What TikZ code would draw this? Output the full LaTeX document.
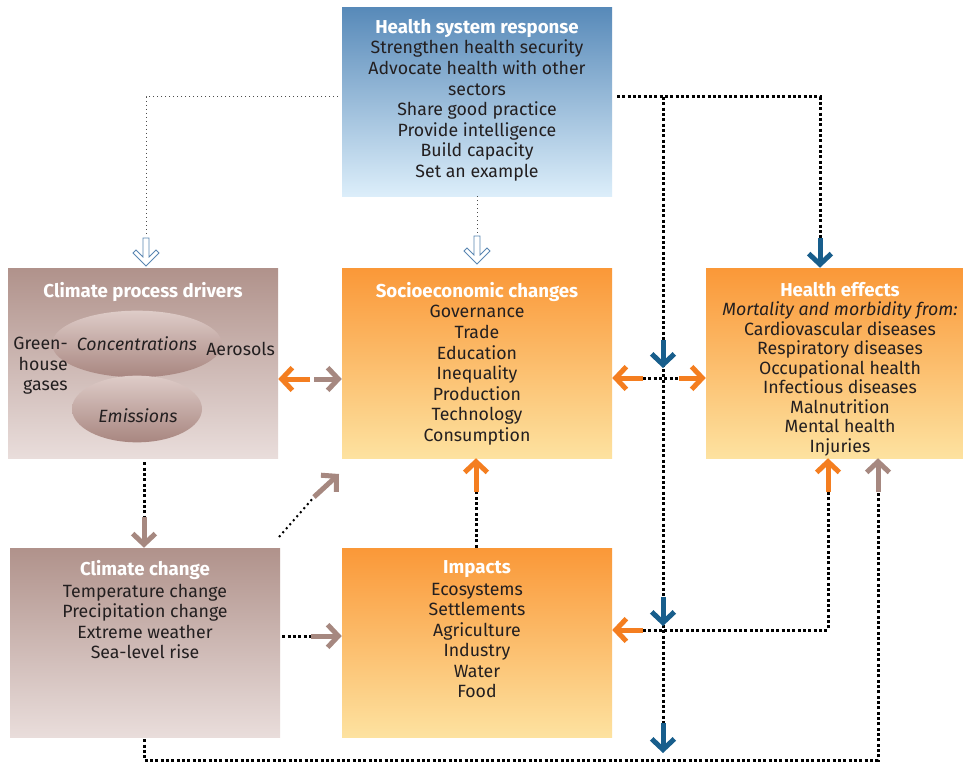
\documentclass[tikz,border=0pt]{standalone}
\usepackage{fontspec}
\setmainfont{Fira Sans}
\usetikzlibrary{arrows.meta,shapes.geometric}
\definecolor{hsrtop}{RGB}{88,138,185}
\definecolor{hsrbot}{RGB}{220,238,250}
\definecolor{brtop}{RGB}{176,146,139}
\definecolor{brbot}{RGB}{233,221,219}
\definecolor{ortop}{RGB}{250,152,56}
\definecolor{orbot}{RGB}{253,226,160}
\definecolor{elltop}{RGB}{222,204,200}
\definecolor{ellbot}{RGB}{168,134,128}
\definecolor{arrorange}{RGB}{244,126,32}
\definecolor{arrbrown}{RGB}{166,136,128}
\definecolor{arrblue}{RGB}{24,94,140}
\definecolor{hollowc}{RGB}{90,134,178}
\definecolor{ink}{RGB}{35,31,32}
\newcommand{\ttl}[1]{\textcolor{white}{\fontsize{14}{15.4}\selectfont\bfseries #1}}
\tikzset{
 box/.style={minimum width=202.5pt, minimum height=142.5pt, inner sep=0pt},
 bluebox/.style={box, top color=hsrtop, bottom color=hsrbot},
 brownbox/.style={box, top color=brtop, bottom color=brbot},
 orangebox/.style={box, top color=ortop, bottom color=orbot},
 ellip/.style={ellipse, minimum width=97.5pt, minimum height=50pt, inner sep=0pt, top color=elltop, bottom color=ellbot, text=ink, font=\fontsize{13.3}{15.4}\selectfont\itshape},
 txt/.style={align=center, inner sep=0pt, font=\fontsize{13.3}{15.4}\selectfont, text=ink, anchor=north},
 txtc/.style={inner sep=0pt, font=\fontsize{13.3}{15.4}\selectfont, text=ink},
 thickdot/.style={line width=2.25pt, dash pattern=on 2.25pt off 1.75pt, draw=black},
 middot/.style={line width=1.5pt, dash pattern=on 1.5pt off 2.5pt, draw=black},
 thindot/.style={line width=0.75pt, dash pattern=on 0.75pt off 2.25pt, draw=black!70},
 fat/.style={line width=3.75pt, -{Straight Barb[length=8pt,width=17pt]}},
 oarr/.style={fat, draw=arrorange},
 barr/.style={fat, draw=arrbrown},
 blarr/.style={fat, draw=arrblue},
 hollowarrow/.pic={\draw[hollowc, line width=0.6pt, fill=white, line join=miter] (-3,0) -- (-3,19) -- (-10,12) -- (-13,15) -- (0,28) -- (13,15) -- (10,12) -- (3,19) -- (3,0) -- cycle;}
}
\begin{document}
\begin{tikzpicture}[x=0.75pt,y=-0.75pt]
\fill[white] (0,0) rectangle (963,763);
\useasboundingbox (0,0) rectangle (963,763);

% boxes
\node[bluebox, minimum height=141pt] (hsr) at (477,102) {};
\node[brownbox] (cpd) at (143,363) {};
\node[orangebox] (soc) at (477,363) {};
\node[orangebox, minimum width=192.75pt] (he) at (834.5,363) {};
\node[brownbox, minimum height=141.75pt] (cc) at (145,642.5) {};
\node[orangebox, minimum height=141.75pt] (imp) at (477,642.5) {};

% texts
\node[txt] (hsrt) at (477,19) {\ttl{Health system response}\\Strengthen health security\\Advocate health with other\\sectors\\Share good practice\\Provide intelligence\\Build capacity\\Set an example};
\node[txt] (cpdt) at (143,282) {\ttl{Climate process drivers}};
\node[ellip] (conc) at (137,344) {Concentrations};
\node[ellip] (emis) at (137,409) {};
\node[txtc] (emist) at (138,416) {\itshape Emissions};
\node[txtc, align=right, anchor=east] (ghg) at (68,366) {Green-\\house\\gases};
\node[txtc, anchor=west] (aer) at (206,349) {Aerosols};
\node[txt] (soct) at (477,282) {\ttl{Socioeconomic changes}\\Governance\\Trade\\Education\\Inequality\\Production\\Technology\\Consumption};
\node[txt, font=\fontsize{13.3}{14.6}\selectfont] (het) at (840,282) {\ttl{Health effects}\\\textit{Mortality and morbidity from:}\\Cardiovascular diseases\\Respiratory diseases\\Occupational health\\Infectious diseases\\Malnutrition\\Mental health\\Injuries};
\node[txt] (cct) at (145,560) {\ttl{Climate change}\\[1pt]Temperature change\\Precipitation change\\Extreme weather\\Sea-level rise};
\node[txt] (impt) at (477,560) {\ttl{Impacts}\\[1pt]Ecosystems\\Settlements\\Agriculture\\Industry\\Water\\Food};

% coordinates
\coordinate (hL) at (338,97);
\coordinate (hLd) at (146,236);
\coordinate (hB) at (477,234);
\coordinate (hR) at (617,97);
\coordinate (hRd) at (820,238);
\coordinate (vTop) at (663,97);
\coordinate (vBot) at (663,723);
\coordinate (xL) at (643,378);
\coordinate (xR) at (679,378);
\coordinate (lowL) at (643,630);
\coordinate (oUp) at (828,492);
\coordinate (bUp) at (878,492);
\coordinate (cpdD) at (144,519);
\coordinate (dgA) at (279,537);
\coordinate (dgB) at (314,497);
\coordinate (ccR) at (313,636);
\coordinate (impU) at (476,492);

% thin dotted connectors
\draw[thindot] (hL) -| (hLd);
\draw[thindot] (hsr.south) -- (hB);
\pic at (146,238) {hollowarrow};
\pic at (477,236) {hollowarrow};

% thick dotted connectors
\draw[thickdot] (hR) -| (hRd);
\draw[thickdot] (vTop) -- (vBot);
\draw[thickdot] (xL) -- (xR);
\draw[thickdot] (lowL) -| (oUp);
\draw[thickdot] (cc.south -| cpdD) ++(0,2) |- (878,760) -- (bUp);
\draw[thickdot] (cpd.south -| cpdD) ++(0,4) -- (cpdD);
\draw[middot] (dgA) -- (dgB);
\draw[thickdot] (cc.east |- ccR) ++(2,0) -- (ccR);
\draw[thickdot] (imp.north -| impU) -- (impU);

% solid arrows
\draw[blarr] (hRd) -- (he.north -| hRd);
\draw[blarr] (663,340) -- (663,368);
\draw[blarr] (663,597) -- (663,626);
\draw[blarr] (663,723) -- (663,753);
\draw[oarr] (xL) -- (soc.east |- xL);
\draw[oarr] (xR) -- (he.west |- xR);
\draw[oarr] (310,379) -- (cpd.east |- 0,379);
\draw[barr] (314,379) -- (soc.west |- 0,379);
\draw[barr] ([yshift=1.5pt]cpdD) -- (cc.north -| cpdD);
\draw[barr] (dgB) -- (339,474);
\draw[barr] ([xshift=-1.5pt]ccR) -- (imp.west |- ccR);
\draw[oarr] (impU) -- (soc.south -| impU);
\draw[oarr] (lowL) -- (imp.east |- lowL);
\draw[oarr] (oUp) -- (he.south -| oUp);
\draw[barr] (bUp) -- (he.south -| bUp);
\end{tikzpicture}
\end{document}
